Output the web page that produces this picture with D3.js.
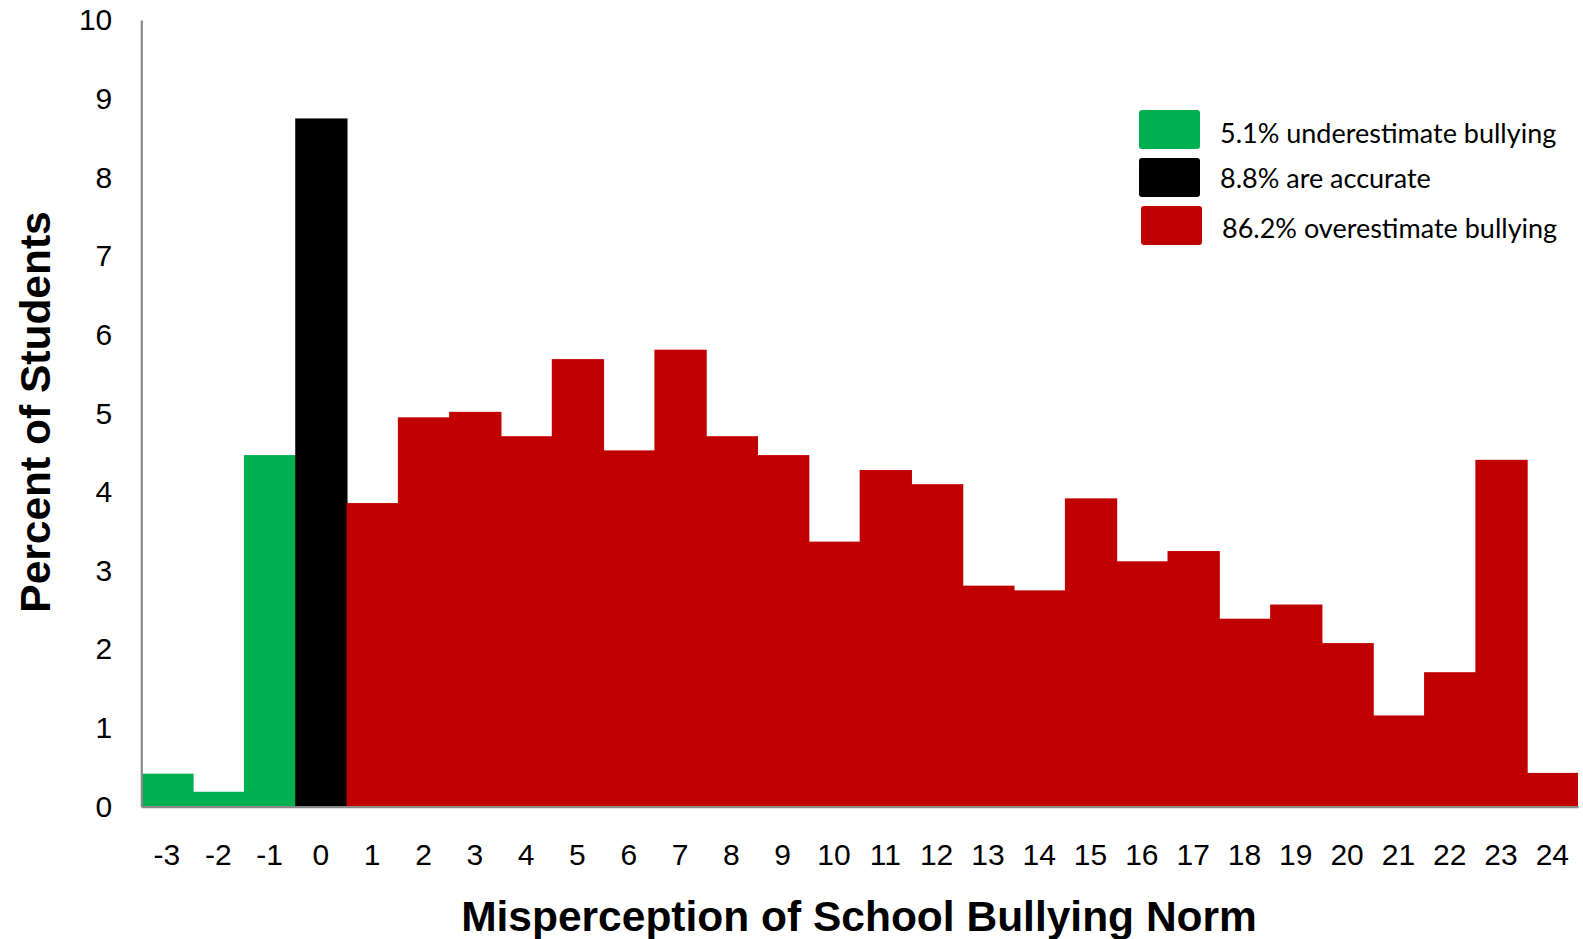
<!DOCTYPE html>
<html>
<head>
<meta charset="UTF-8">
<title>Misperception of School Bullying Norm</title>
<script src="https://cdnjs.cloudflare.com/ajax/libs/d3/7.8.5/d3.min.js"></script>
<style>
	body { margin: 0; background: #fff; }
	.tick text { font-family: Arial, "Liberation Sans", sans-serif; fill: #000; }
	.axis-title { font-family: Arial, "Liberation Sans", sans-serif; font-weight: bold; }
	.legend text { font-family: Lato, "Open Sans", sans-serif; }
</style>
</head>
<body>
<div id="chart"></div>
<script>
// misperception score (categories) and percent of students
var categories = ["-3","-2","-1","0","1","2","3","4","5","6","7","8","9","10","11","12","13","14","15","16","17","18","19","20","21","22","23","24"];
var percents = [0.42, 0.19, 4.47, 8.75, 3.86, 4.95, 5.02, 4.71, 5.69, 4.53, 5.81, 4.71, 4.47, 3.37, 4.28, 4.10, 2.81, 2.75, 3.92, 3.12, 3.25, 2.39, 2.57, 2.08, 1.16, 1.71, 4.41, 0.43];
var groups = ["under","under","under","accurate","over","over","over","over","over","over","over","over","over","over","over","over","over","over","over","over","over","over","over","over","over","over","over","over"];
var yTicks = [0,1,2,3,4,5,6,7,8,9,10];
var legendKeys = ["under","accurate","over"];
var legendLabels = ["5.1% underestimate bullying","8.8% are accurate","86.2% overestimate bullying"];

var width = 1583, height = 939;
var margin = {left: 141.3, right: 5, top: 20.1, bottom: 132.3};

var color = d3.scaleOrdinal()
	.domain(legendKeys)
	.range(["#00b050", "#000000", "#c00000"]);

var svg = d3.select("#chart").append("svg")
	.attr("width", width)
	.attr("height", height);

var x = d3.scaleBand()
	.domain(categories)
	.range([margin.left, width - margin.right])
	.padding(0);

var y = d3.scaleLinear()
	.domain([0, 10])
	.range([height - margin.bottom, margin.top]);

// bars (slight overlap so no seams show between neighbours)
svg.append("g").selectAll("rect")
	.data(categories)
	.enter().append("rect")
	.attr("x", function(d) { return x(d); })
	.attr("width", function(d, i) { return x.bandwidth() + (i < categories.length - 1 ? 1 : 0); })
	.attr("y", function(d, i) { return y(percents[i]); })
	.attr("height", function(d, i) { return y(0) - y(percents[i]); })
	.attr("fill", function(d, i) { return color(groups[i]); });

// y axis
var yAxis = svg.append("g")
	.attr("transform", "translate(" + margin.left + ",0)")
	.call(d3.axisLeft(y).tickValues(yTicks).tickSize(0).tickPadding(29));
yAxis.select(".domain").attr("stroke", "#898989").attr("stroke-width", 2.2);
yAxis.selectAll(".tick text").style("font-size", "30px");

// x axis
var xAxis = svg.append("g")
	.attr("transform", "translate(0," + y(0) + ")")
	.call(d3.axisBottom(x).tickSize(0).tickPadding(37));
xAxis.select(".domain").attr("stroke", "#898989").attr("stroke-width", 2.2);
xAxis.selectAll(".tick text").style("font-size", "30px");

// axis titles
svg.append("text")
	.attr("class", "axis-title")
	.attr("x", 859)
	.attr("y", 930.5)
	.attr("text-anchor", "middle")
	.style("font-size", "42.5px")
	.text("Misperception of School Bullying Norm");

svg.append("text")
	.attr("class", "axis-title")
	.attr("transform", "translate(50,412) rotate(-90)")
	.attr("text-anchor", "middle")
	.style("font-size", "42.5px")
	.text("Percent of Students");

// legend
var legend = svg.append("g").attr("class", "legend");
var rowY = [110, 158, 206];
var textY = [143.3, 188.3, 237.7];
legendKeys.forEach(function(k, i) {
	legend.append("rect")
		.attr("x", 1139 + (i == 2 ? 2 : 0))
		.attr("y", rowY[i])
		.attr("width", 61)
		.attr("height", 39)
		.attr("rx", 3)
		.attr("fill", color(k));
	legend.append("text")
		.attr("x", 1220 + (i == 2 ? 2 : 0))
		.attr("y", textY[i])
		.style("font-size", "27px")
		.text(legendLabels[i]);
});
</script>
</body>
</html>
